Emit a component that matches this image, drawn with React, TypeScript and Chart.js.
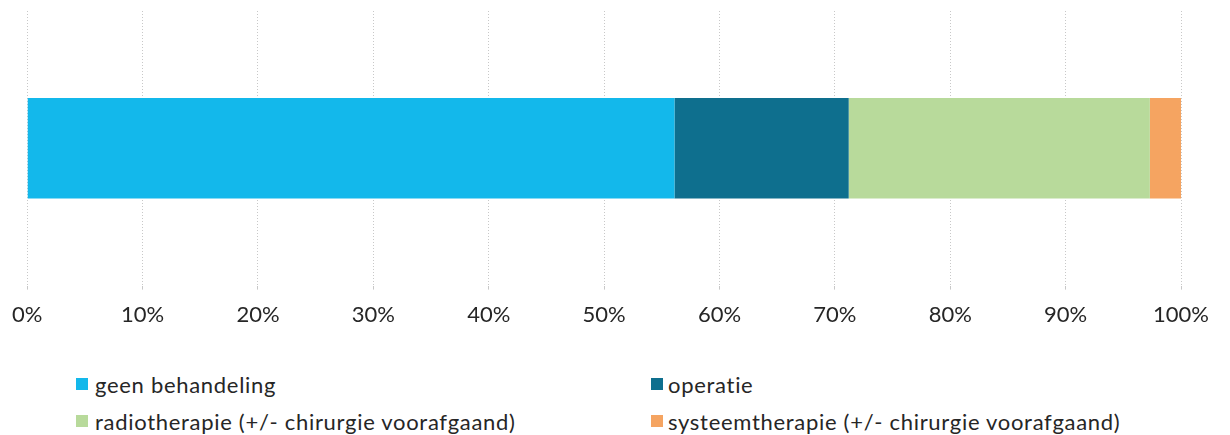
import React, { useEffect, useRef } from "react";
import { Chart, registerables } from "chart.js";

Chart.register(...registerables);

const categories = [""];
const seriesLabels = [
  "geen behandeling",
  "operatie",
  "radiotherapie (+/- chirurgie voorafgaand)",
  "systeemtherapie (+/- chirurgie voorafgaand)",
];
const geenBehandeling = [56.1];
const operatie = [15.1];
const radiotherapie = [26.1];
const systeemtherapie = [2.7];
const colors = ["#13B8EB", "#0E6F8E", "#B8DA9B", "#F5A461"];
const tickValues = [0, 10, 20, 30, 40, 50, 60, 70, 80, 90, 100];

const FONT = "Lato, 'Open Sans', sans-serif";

export default function App() {
  const ref = useRef<HTMLCanvasElement | null>(null);
  useEffect(() => {
    if (!ref.current) return;
    const series = [geenBehandeling, operatie, radiotherapie, systeemtherapie];
    const chart = new Chart(ref.current, {
      type: "bar",
      data: {
        labels: categories,
        datasets: series.map((d, i) => ({
          label: seriesLabels[i],
          data: d,
          backgroundColor: colors[i],
          borderWidth: 0,
          barPercentage: 0.366,
          categoryPercentage: 1,
        })),
      },
      options: {
        indexAxis: "y",
        animation: false,
        responsive: false,
        maintainAspectRatio: false,
        layout: { padding: { left: 26, right: 49, top: 11, bottom: 0 } },
        plugins: { legend: { display: false }, tooltip: { enabled: false } },
        scales: {
          x: {
            stacked: true,
            min: 0,
            max: 100,
            afterBuildTicks: (axis: any) => {
              axis.ticks = tickValues.map((v) => ({ value: v }));
            },
            grid: {
              color: "#c8c8c8",
              lineWidth: 1,
              drawTicks: true,
              tickLength: 4,
            },
            border: { display: false, dash: [1, 2] },
            ticks: {
              color: "#262626",
              font: { family: FONT, size: 22 },
              padding: 12,
              maxRotation: 0,
              callback: (v: any) => v + "%",
            },
          },
          y: {
            stacked: true,
            display: false,
          },
        },
      },
    });
    return () => chart.destroy();
  }, []);

  const legendItem = (i: number, left: number, top: number, gap: number) => (
    <div
      key={i}
      style={{
        position: "absolute",
        left,
        top,
        height: 24,
        display: "flex",
        alignItems: "center",
        fontFamily: FONT,
        fontSize: 22,
        letterSpacing: 0.7,
        color: "#262626",
        whiteSpace: "nowrap",
      }}
    >
      <span
        style={{
          display: "inline-block",
          width: 12,
          height: 12,
          background: colors[i],
          marginRight: gap,
        }}
      />
      {seriesLabels[i]}
    </div>
  );

  return (
    <div style={{ position: "absolute", left: 0, top: 0, width: 1230, height: 435, background: "#fff" }}>
      <canvas ref={ref} width={1230} height={340} style={{ display: "block" }} />
      {legendItem(0, 76, 372, 7)}
      {legendItem(1, 651, 372, 5)}
      {legendItem(2, 76, 409, 7)}
      {legendItem(3, 651, 409, 5)}
    </div>
  );
}
